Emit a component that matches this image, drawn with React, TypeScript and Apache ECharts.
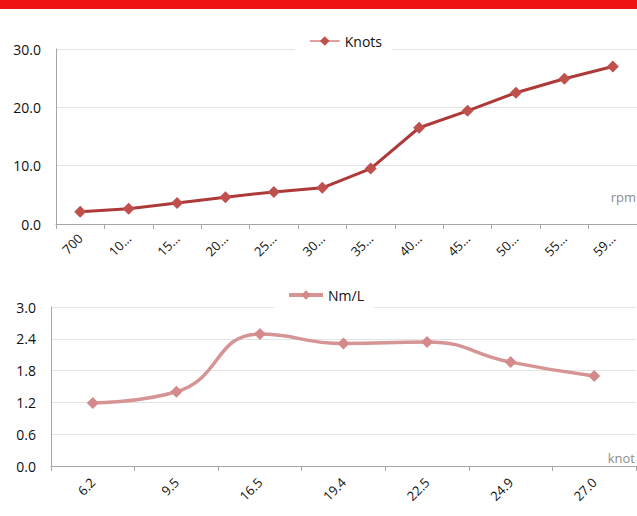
import React, { useEffect, useRef } from "react";
import * as echarts from "echarts";

const rpmCategories = ["700", "1000", "1500", "2000", "2500", "3000", "3500", "4000", "4500", "5000", "5500", "5900"];
const knotsValues = [2.1, 2.6, 3.6, 4.6, 5.5, 6.2, 9.5, 16.5, 19.4, 22.5, 24.9, 27.0];

const knotCategories = ["6.2", "9.5", "16.5", "19.4", "22.5", "24.9", "27.0"];
const nmlValues = [1.19, 1.4, 2.49, 2.31, 2.34, 1.96, 1.7];

const FONT = "Open Sans";

export default function App() {
  const ref = useRef<HTMLDivElement>(null);
  useEffect(() => {
    document.body.style.margin = "0";
    const chart = echarts.init(ref.current!, null, { renderer: "svg" });
    const axisLine = { lineStyle: { color: "#a6a6a6", width: 1 } };
    const splitLine = { show: true, lineStyle: { color: "#e3e3e3", width: 1 } };
    chart.setOption({
      animation: false,
      textStyle: { fontFamily: FONT },
      graphic: [
        { type: "rect", shape: { x: 0, y: 0, width: 637, height: 9 }, style: { fill: "#f01414" } },
      ],
      legend: [
        {
          data: ["Knots"],
          left: 295,
          top: 30,
          padding: [4, 10, 6, 14],
          backgroundColor: "#ffffff",
          itemWidth: 30,
          itemHeight: 12,
          itemGap: 4,
          lineStyle: { width: 1.5, color: "#d98080" },
          textStyle: { fontFamily: FONT, fontSize: 14, color: "#111" },
        },
        {
          data: ["Nm/L"],
          left: 274,
          top: 284,
          padding: [4, 10, 6, 13],
          backgroundColor: "#ffffff",
          itemWidth: 34,
          itemHeight: 12,
          itemGap: 3,
          lineStyle: { width: 4 },
          textStyle: { fontFamily: FONT, fontSize: 14, color: "#111" },
        },
      ],
      grid: [
        { left: 56, right: 0, top: 49, height: 175 },
        { left: 51, right: 1, top: 307, height: 159 },
      ],
      xAxis: [
        {
          type: "category",
          gridIndex: 0,
          data: rpmCategories,
          boundaryGap: true,
          axisLine,
          axisTick: { show: true, length: 5, lineStyle: { color: "#a6a6a6" } },
          axisLabel: {
            rotate: 45,
            margin: 12,
            interval: 0,
            fontFamily: FONT,
            fontSize: 13,
            color: "#111",
            formatter: (v: string) => (v.length > 3 ? v.slice(0, 2) + "…" : v),
          },
          name: "rpm",
          nameLocation: "end",
          nameGap: -1,
          nameTextStyle: { align: "right", verticalAlign: "bottom", padding: [0, 0, 21, 0], color: "#8c8c8c", fontSize: 13, fontFamily: FONT },
        },
        {
          type: "category",
          gridIndex: 1,
          data: knotCategories,
          boundaryGap: true,
          axisLine,
          axisTick: { show: true, length: 5, lineStyle: { color: "#a6a6a6" } },
          axisLabel: {
            rotate: 45,
            margin: 14,
            interval: 0,
            fontFamily: FONT,
            fontSize: 13,
            color: "#111",
          },
          name: "knot",
          nameLocation: "end",
          nameGap: -1,
          nameTextStyle: { align: "right", verticalAlign: "bottom", padding: [0, 0, 2, 0], color: "#8c8c8c", fontSize: 13, fontFamily: FONT },
        },
      ],
      yAxis: [
        {
          type: "value",
          gridIndex: 0,
          min: 0,
          max: 30,
          interval: 10,
          axisLine: { show: true, ...axisLine },
          axisTick: { show: false },
          splitLine,
          axisLabel: { margin: 15, fontFamily: FONT, fontSize: 14, color: "#111", formatter: (v: number) => v.toFixed(1) },
        },
        {
          type: "value",
          gridIndex: 1,
          min: 0,
          max: 3,
          interval: 0.6,
          axisLine: { show: true, ...axisLine },
          axisTick: { show: false },
          splitLine,
          axisLabel: { margin: 15, fontFamily: FONT, fontSize: 14, color: "#111", formatter: (v: number) => v.toFixed(1) },
        },
      ],
      series: [
        {
          name: "Knots",
          type: "line",
          xAxisIndex: 0,
          yAxisIndex: 0,
          data: knotsValues,
          symbol: "diamond",
          symbolSize: 12,
          lineStyle: { color: "#ad3a38", width: 3 },
          itemStyle: { color: "#c0504d" },
        },
        {
          name: "Nm/L",
          type: "line",
          xAxisIndex: 1,
          yAxisIndex: 1,
          data: nmlValues,
          smooth: 0.5,
          symbol: "diamond",
          symbolSize: 12,
          lineStyle: { color: "#d69494", width: 3.5 },
          itemStyle: { color: "#d48a8a" },
        },
      ],
    });
    return () => chart.dispose();
  }, []);
  return <div ref={ref} style={{ width: 637, height: 516 }} />;
}
